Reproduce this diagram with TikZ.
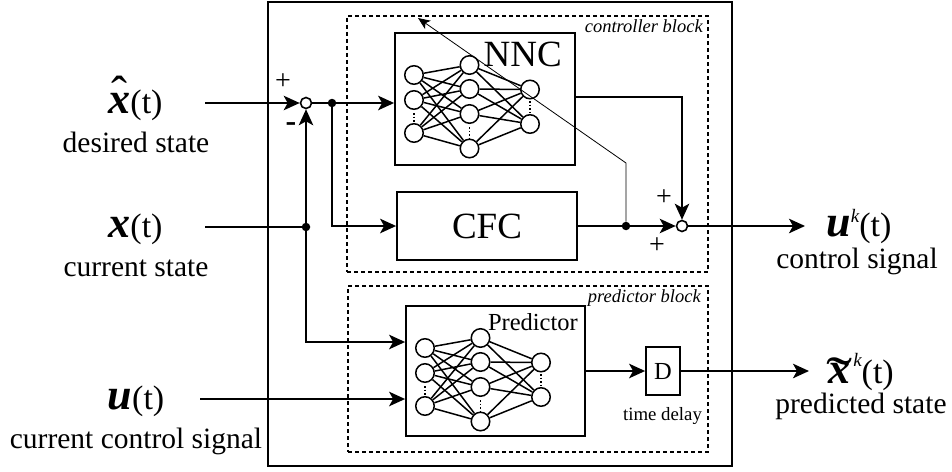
\documentclass[tikz,border=0pt]{standalone}
\usepackage{fontspec}
\setmainfont{Liberation Serif}
\usepackage{graphicx}
\usetikzlibrary{arrows.meta,calc}

\newcommand\bivar[1]{{\fontsize{44}{44}\selectfont\bfseries\itshape #1}}
\newcommand\tpar{{\fontsize{34}{34}\selectfont(t)}}
\newcommand\supk{{\fontsize{19}{19}\selectfont\itshape k}}
\newcommand\hatx{\ooalign{\bivar{x}\cr\hidewidth\raisebox{4pt}{\fontsize{48}{48}\selectfont ˆ}\hidewidth\cr}}
\newcommand\tildex{\ooalign{\bivar{x}\cr\hidewidth\raisebox{-12pt}{\scalebox{1.4}[1]{\fontsize{56}{56}\selectfont ˜}}\hidewidth\cr}}

\tikzset{
  wire/.style={line width=1.9pt},
  arr/.style={wire,-{Stealth[length=16pt,width=14.5pt,inset=4pt]}},
  thinarr/.style={line width=0.8pt,-{Stealth[length=12pt,width=10pt,inset=3pt]}},
  blockbox/.style={draw,line width=1.8pt,inner sep=0pt},
  outerbox/.style={draw,line width=1.5pt,inner sep=0pt},
  dashbox/.style={draw,line width=1.7pt,dash pattern=on 4pt off 3pt,inner sep=0pt},
  neuron/.style={circle,draw,line width=1.5pt,fill=white,minimum size=18.5pt,inner sep=0pt},
  nnline/.style={line width=1.5pt},
  nndots/.style={line width=1.7pt,dash pattern=on 1.6pt off 2pt},
  sumj/.style={circle,draw,line width=1.6pt,fill=white,minimum size=11pt,inner sep=0pt},
  jdot/.style={circle,fill,minimum size=8.5pt,inner sep=0pt},
  lbl/.style={font=\fontsize{29.5}{30}\selectfont,inner sep=0pt,anchor=base},
  mlbl/.style={inner sep=0pt,anchor=base},
  bigtxt/.style={font=\fontsize{37}{37}\selectfont},
  midtxt/.style={font=\fontsize{24.5}{25}\selectfont,inner sep=0pt},
  smalltxt/.style={font=\fontsize{18.8}{19}\selectfont,inner sep=0pt,anchor=base},
  smallit/.style={font=\fontsize{18.5}{19}\selectfont\itshape,inner sep=0pt,anchor=base east},
  signtxt/.style={font=\fontsize{28}{28}\selectfont,inner sep=0pt},
  minustxt/.style={font=\fontsize{32}{32}\selectfont\bfseries,inner sep=0pt},
}

\newcommand\mynet[3]{%
  \begin{scope}[shift={(#2,#3)}]
    \foreach \i/\yy in {1/42,2/67,3/100} \node[neuron] (#1a\i) at (19,\yy) {};
    \foreach \i/\yy in {1/32,2/56,3/81,4/115.5} \node[neuron] (#1b\i) at (74.5,\yy) {};
    \foreach \i/\yy in {1/56.5,2/91} \node[neuron] (#1c\i) at (135,\yy) {};
    \foreach \i in {1,2,3} \foreach \j in {1,2,3,4} \draw[nnline] (#1a\i) -- (#1b\j);
    \foreach \i in {1,2,3,4} \foreach \j in {1,2} \draw[nnline] (#1b\i) -- (#1c\j);
    \coordinate (#1da1) at (19,80); \coordinate (#1da2) at (19,90);
    \coordinate (#1db1) at (74.5,94); \coordinate (#1db2) at (74.5,105);
    \coordinate (#1dc1) at (135,68); \coordinate (#1dc2) at (135,80);
    \draw[nndots] (#1da1) -- (#1da2);
    \draw[nndots] (#1db1) -- (#1db2);
    \draw[nndots] (#1dc1) -- (#1dc2);
  \end{scope}}

\begin{document}
\begin{tikzpicture}[x=1pt,y=-1pt]
\useasboundingbox (0,0) rectangle (952,471);

% frames
\node[outerbox,minimum width=464pt,minimum height=464pt] (outer) at (500,234) {};
\node[dashbox,minimum width=361pt,minimum height=256pt] (ctrl) at (527.5,144) {};
\node[dashbox,minimum width=360pt,minimum height=166pt] (predblk) at (528,369) {};
\node[smallit] (ctrllbl) at (703,32) {controller block};
\node[smallit] (predblklbl) at (701,302) {predictor block};

% blocks
\node[blockbox,minimum width=180pt,minimum height=132pt] (nnc) at (485,99) {};
\node[blockbox,bigtxt,minimum width=180pt,minimum height=68pt] (cfc) at (487,226) {CFC};
\node[blockbox,minimum width=179pt,minimum height=130pt] (pred) at (495.5,371) {};
\node[blockbox,midtxt,minimum width=34pt,minimum height=48pt] (dbox) at (663,371) {D};
\node[smalltxt] (tdlbl) at (662.5,420) {time delay};

\mynet{n}{395}{33}
\mynet{p}{406}{306}

\node[bigtxt,inner sep=0pt,anchor=base east] (nnclbl) at (562,66) {NNC};
\node[midtxt,anchor=base east] (predlbl) at (578,330) {Predictor};

% junctions
\node[sumj] (sum1) at (306,103) {};
\node[jdot] (dot1) at (332,103) {};
\node[jdot] (dot2) at (306,227) {};
\node[sumj] (sum2) at (682,226) {};
\node[jdot] (dot3) at (626,226) {};

\coordinate (in1) at (205,103);
\coordinate (in2) at (205,227);
\coordinate (in3) at (200,399);
\coordinate (out1) at (805,226);
\coordinate (out2) at (809,371);
\coordinate (bend) at (626,163);
\coordinate (tip) at (418,18);

% connectors
\draw[arr] (in1) -- (sum1);
\draw[wire] (sum1) -- (dot1);
\draw[arr] (dot1) -- (dot1 -| nnc.west);
\draw[arr] (dot1) |- (cfc.west);
\draw[wire] (in2) -- (dot2);
\draw[arr] (dot2) -- (sum1);
\draw[arr] (dot2) |- ([yshift=29pt]pred.west);
\draw[arr] (in3) -- ([yshift=-28pt]pred.west);
\draw[arr] (pred.east) -- (dbox.west);
\draw[arr] (dbox.east) -- (out2);
\draw[arr] ([yshift=2pt]nnc.east) -| (sum2);
\draw[wire] (cfc.east) -- (dot3);
\draw[arr] (dot3) -- (sum2);
\draw[arr] (sum2) -- (out1);
\draw[thinarr] (dot3) -- (bend) -- (tip);

% signs
\node[signtxt] (p1) at (283,82) {+};
\node[minustxt] (m1) at (291,127) {-};
\node[signtxt] (p2) at (664,198) {+};
\node[signtxt] (p3) at (657,246) {+};

% outer labels
\node[mlbl] (xhatlbl) at (135.5,113) {\hatx\tpar};
\node[lbl] (dslbl) at (136,152) {desired state};
\node[mlbl] (xlbl) at (135.5,237) {\bivar{x}\tpar};
\node[lbl] (cslbl) at (136,276) {current state};
\node[mlbl] (ulbl) at (136,409) {\bivar{u}\tpar};
\node[lbl] (ccslbl) at (136,448) {current control signal};
\node[mlbl] (uklbl) at (859,236) {\bivar{u}\raisebox{14pt}{\supk}\tpar};
\node[lbl] (cslbl2) at (857,268) {control signal};
\node[mlbl] (xklbl) at (861,383) {\tildex\hspace{3pt}\raisebox{17pt}{\supk}\tpar};
\node[lbl] (pslbl) at (861,413) {predicted state};
\end{tikzpicture}
\end{document}
